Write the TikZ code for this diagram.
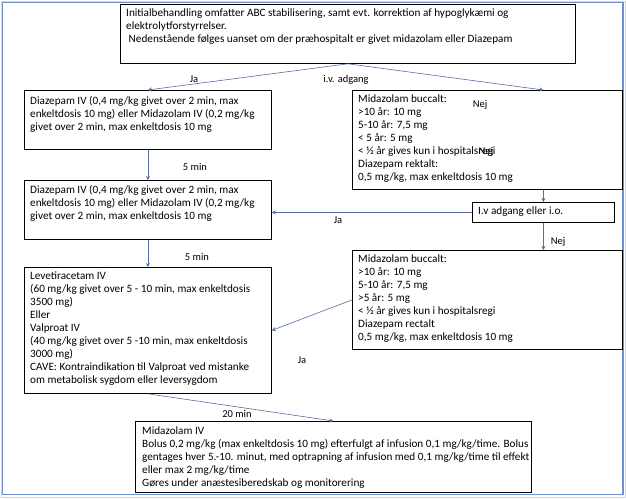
\documentclass[tikz,border=0pt]{standalone}
\usepackage{fontspec}
\setmainfont{Carlito}
\usetikzlibrary{arrows.meta}
\definecolor{frameblue}{RGB}{110,145,205}
\definecolor{arr}{RGB}{85,110,160}
\begin{document}
\begin{tikzpicture}[x=1pt,y=-1pt,
 box/.style={draw=black,line width=0.8pt,rectangle,inner sep=0pt,anchor=north west},
 txt/.style={anchor=north west,inner sep=0pt,align=left,font=\fontsize{11.2}{13}\selectfont},
 conn/.style={draw=arr,line width=0.6pt,-{Stealth[length=4pt,width=4pt]}},
 lbl/.style={font=\fontsize{10.5}{12}\selectfont,inner sep=0pt}]
\useasboundingbox (0,0) rectangle (626,498);
\fill[white] (0,0) rectangle (626,498);
\draw[frameblue!35, line width=1pt] (1,1) rectangle (625,497);
\draw[frameblue, line width=1.6pt] (2.5,2.5) rectangle (623,494.5);

% boxes
\node[box, minimum width=455pt, minimum height=59pt] (T) at (120,4) {};
\node[box, minimum width=247pt, minimum height=59pt] (L1) at (24,90) {};
\node[box, minimum width=247pt, minimum height=59pt] (L2) at (24,180) {};
\node[box, minimum width=247pt, minimum height=126pt] (L3) at (24,267) {};
\node[box, minimum width=270pt, minimum height=99pt] (R1) at (352,90) {};
\node[box, minimum width=142pt, minimum height=20pt] (IV) at (472,202) {};
\node[box, minimum width=270pt, minimum height=99pt] (R2) at (352,250) {};
\node[box, minimum width=396pt, minimum height=71pt] (B) at (135,421) {};

% texts
\node[txt] (Tt) at (126,9) {Initialbehandling omfatter ABC stabilisering, samt evt. korrektion af hypoglykæmi og\\ elektrolytforstyrrelser.\\ \ Nedenstående følges uanset om der præhospitalt er givet midazolam eller Diazepam};
\node[txt] (L1t) at (30,96) {Diazepam IV (0,4 mg/kg givet over 2 min, max\\ enkeltdosis 10 mg) eller Midazolam IV (0,2 mg/kg\\ givet over 2 min, max enkeltdosis 10 mg};
\node[txt] (L2t) at (30,185) {Diazepam IV (0,4 mg/kg givet over 2 min, max\\ enkeltdosis 10 mg) eller Midazolam IV (0,2 mg/kg\\ givet over 2 min, max enkeltdosis 10 mg};
\node[txt] (L3t) at (30,272) {Levetiracetam IV\\ (60 mg/kg givet over 5 - 10 min, max enkeltdosis\\ 3500 mg)\\ Eller\\ Valproat IV\\ (40 mg/kg givet over 5 -10 min, max enkeltdosis\\ 3000 mg)\\ CAVE: Kontraindikation til Valproat ved mistanke\\ om metabolisk sygdom eller leversygdom};
\node[txt] (R1t) at (358,95) {Midazolam buccalt:\\ >10 år: 10 mg\\ 5-10 år: 7,5 mg\\ < 5 år: 5 mg\\ < ½ år gives kun i hospitalsregi\\ Diazepam rektalt:\\ 0,5 mg/kg, max enkeltdosis 10 mg};
\node[txt] (IVt) at (478,207) {I.v adgang eller i.o.};
\node[txt] (R2t) at (358,255) {Midazolam buccalt:\\ >10 år: 10 mg\\ 5-10 år: 7,5 mg\\ >5 år: 5 mg\\ < ½ år gives kun i hospitalsregi\\ Diazepam rectalt\\ 0,5 mg/kg, max enkeltdosis 10 mg};
\node[txt] (Bt) at (142,427) {Midazolam IV\\ Bolus 0,2 mg/kg (max enkeltdosis 10 mg) efterfulgt af infusion 0,1 mg/kg/time. Bolus\\ gentages hver 5.-10. minut, med optrapning af infusion med 0,1 mg/kg/time til effekt\\ eller max 2 mg/kg/time\\ Gøres under anæstesiberedskab og monitorering};

% connectors
\draw[conn] (T.south) -- (L1.north);
\draw[conn] (T.south) -- (R1.north -| IV.north);
\draw[conn] (L1.south) -- (L2.north);
\draw[conn] (IV.north |- R1.south) -- (IV.north);
\draw[conn] (IV.west) -- (IV.west -| L2.east);
\draw[conn] (IV.south) -- (IV.south |- R2.north);
\draw[conn] (R2.west) -- (L3.east);
\draw[conn] (L2.south) -- (L3.north);
\draw[conn] (L3.south) -- (B.north);

% labels
\node[lbl] (ja1) at (194,79) {Ja};
\node[lbl] (iva) at (346,80) {i.v. adgang};
\node[lbl] (m5a) at (195,167) {5 min};
\node[lbl] (ja2) at (338,220) {Ja};
\node[lbl] (nej1) at (558,242) {Nej};
\node[lbl] (m5b) at (197,257) {5 min};
\node[lbl] (ja3) at (302,360) {Ja};
\node[lbl] (m20) at (237,414) {20 min};
\node[lbl] (nej2) at (480,105) {Nej};
\node[lbl] (nej3) at (486,152) {Nej};
\end{tikzpicture}
\end{document}
